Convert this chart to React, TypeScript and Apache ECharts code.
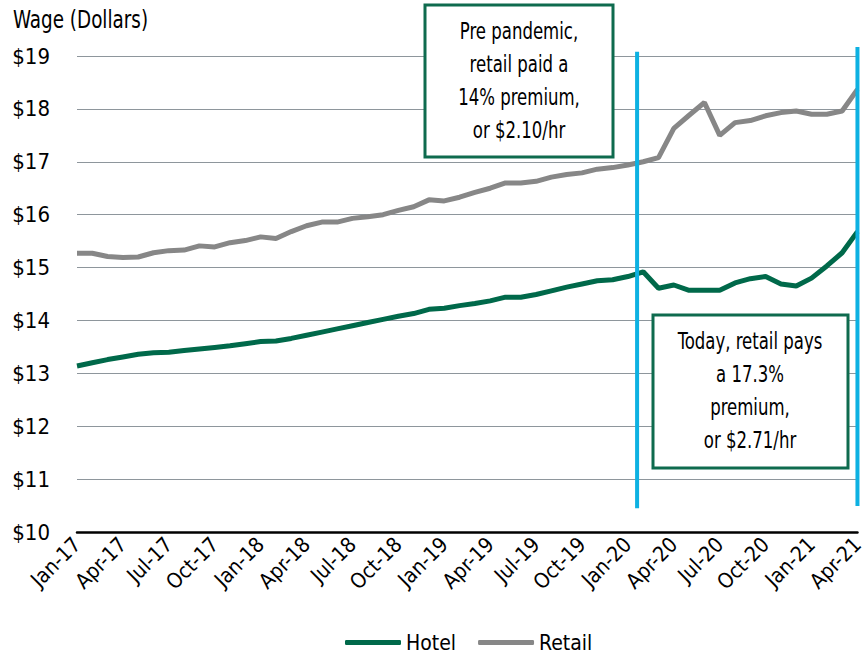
import React, { useEffect, useRef } from "react";
import * as echarts from "echarts";

const months: string[] = [
  "Jan-17","Feb-17","Mar-17","Apr-17","May-17","Jun-17","Jul-17","Aug-17","Sep-17","Oct-17","Nov-17","Dec-17",
  "Jan-18","Feb-18","Mar-18","Apr-18","May-18","Jun-18","Jul-18","Aug-18","Sep-18","Oct-18","Nov-18","Dec-18",
  "Jan-19","Feb-19","Mar-19","Apr-19","May-19","Jun-19","Jul-19","Aug-19","Sep-19","Oct-19","Nov-19","Dec-19",
  "Jan-20","Feb-20","Mar-20","Apr-20","May-20","Jun-20","Jul-20","Aug-20","Sep-20","Oct-20","Nov-20","Dec-20",
  "Jan-21","Feb-21","Mar-21","Apr-21",
];

const hotel: number[] = [
  13.14, 13.20, 13.26, 13.31, 13.36, 13.39, 13.40, 13.43, 13.46, 13.49, 13.52, 13.56,
  13.60, 13.61, 13.66, 13.72, 13.78, 13.84, 13.90, 13.96, 14.02, 14.08, 14.13, 14.21,
  14.23, 14.28, 14.32, 14.37, 14.44, 14.44, 14.49, 14.56, 14.63, 14.69, 14.75, 14.77,
  14.83, 14.92, 14.61, 14.67, 14.57, 14.57, 14.57, 14.71, 14.79, 14.83, 14.69, 14.65,
  14.80, 15.03, 15.28, 15.68,
];

const retail: number[] = [
  15.27, 15.27, 15.21, 15.19, 15.20, 15.28, 15.32, 15.33, 15.41, 15.39, 15.47, 15.51,
  15.58, 15.55, 15.68, 15.79, 15.86, 15.86, 15.93, 15.96, 16.00, 16.08, 16.15, 16.28,
  16.26, 16.33, 16.42, 16.50, 16.60, 16.60, 16.63, 16.71, 16.76, 16.79, 16.86, 16.89,
  16.94, 17.00, 17.08, 17.63, 17.88, 18.12, 17.50, 17.74, 17.78, 17.87, 17.93, 17.96,
  17.90, 17.90, 17.96, 18.37,
];

// vertical marker lines: [x index, y start, y end]
const markers: number[][] = [
  [36.6, 10.45, 19.08],
  [51, 10.49, 19.17],
];

const yTicks: number[] = [10, 11, 12, 13, 14, 15, 16, 17, 18, 19];

const FONT = "'DejaVu Sans Condensed', 'DejaVu Sans', sans-serif";

export default function App() {
  const ref = useRef<HTMLDivElement>(null);
  useEffect(() => {
    if (!ref.current) return;
    const chart = echarts.init(ref.current, undefined, { renderer: "svg" });
    const hotelData = hotel.map((v, i) => [i, v]);
    const retailData = retail.map((v, i) => [i, v]);
    const baseGraphic: any[] = [
      {
        id: "ytitle",
        type: "text",
        x: 13,
        y: 7,
        scaleX: 0.85,
        style: { text: "Wage (Dollars)", fontSize: 24, fill: "#000000", fontFamily: FONT },
      },
      {
        id: "box1",
        type: "rect",
        shape: { x: 425, y: 5, width: 188, height: 152 },
        style: { fill: "#ffffff", stroke: "#0E6B4E", lineWidth: 3 },
        z: 10,
      },
      {
        id: "box1text",
        type: "text",
        x: 519,
        y: 81,
        scaleX: 0.8,
        style: {
          text: "Pre pandemic,\nretail paid a\n14% premium,\nor $2.10/hr",
          fontSize: 23,
          lineHeight: 33,
          fill: "#000000",
          fontFamily: FONT,
          align: "center",
          verticalAlign: "middle",
        },
        z: 11,
      },
      {
        id: "box2",
        type: "rect",
        shape: { x: 653, y: 315, width: 195, height: 153 },
        style: { fill: "#ffffff", stroke: "#0E6B4E", lineWidth: 3 },
        z: 10,
      },
      {
        id: "box2text",
        type: "text",
        x: 750,
        y: 391,
        scaleX: 0.8,
        style: {
          text: "Today, retail pays\na 17.3%\npremium,\nor $2.71/hr",
          fontSize: 23,
          lineHeight: 33,
          fill: "#000000",
          fontFamily: FONT,
          align: "center",
          verticalAlign: "middle",
        },
        z: 11,
      },
    ];
    chart.setOption({
      animation: false,
      backgroundColor: "#ffffff",
      textStyle: { fontFamily: FONT },
      grid: { left: 77, right: 5, top: 56, bottom: 122, containLabel: false },
      xAxis: {
        type: "value",
        min: 0,
        max: months.length - 1,
        interval: 3,
        axisLine: { show: true, onZero: false, lineStyle: { color: "#000000", width: 2.5 } },
        axisTick: { show: false },
        splitLine: { show: false },
        axisLabel: {
          rotate: 45,
          fontSize: 21,
          color: "#000000",
          fontFamily: FONT,
          margin: 9,
          formatter: (v: number) => months[Math.round(v)] ?? "",
        },
      },
      yAxis: {
        type: "value",
        min: yTicks[0],
        max: yTicks[yTicks.length - 1],
        interval: 1,
        axisLine: { show: false },
        axisTick: { show: false },
        splitLine: { show: true, lineStyle: { color: "#8E969C", width: 1 } },
        axisLabel: {
          fontSize: 22,
          color: "#000000",
          fontFamily: FONT,
          margin: 27,
          formatter: (v: number) => "$" + v,
        },
      },
      legend: {
        left: 340,
        top: 627,
        itemWidth: 56,
        itemHeight: 5,
        itemGap: 22,
        icon: "roundRect",
        textStyle: { fontSize: 21, color: "#000000", fontFamily: FONT },
        data: ["Hotel", "Retail"],
      },
      graphic: baseGraphic,
      series: [
        {
          name: "Hotel",
          type: "line",
          data: hotelData,
          showSymbol: false,
          symbol: "none",
          color: "#00694A",
          lineStyle: { color: "#00694A", width: 5 },
          z: 3,
        },
        {
          name: "Retail",
          type: "line",
          data: retailData,
          showSymbol: false,
          symbol: "none",
          color: "#878787",
          lineStyle: { color: "#878787", width: 5 },
          z: 2,
        },
      ],
    });
    const lines = markers.map((m, i) => {
      const p1 = chart.convertToPixel({ gridIndex: 0 }, [m[0], m[1]]) as number[];
      const p2 = chart.convertToPixel({ gridIndex: 0 }, [m[0], m[2]]) as number[];
      return {
        id: "vline" + i,
        type: "line",
        shape: { x1: p1[0], y1: p1[1], x2: p2[0], y2: p2[1] },
        style: { stroke: "#0DB1E2", lineWidth: 4 },
        z: 12,
        silent: true,
      };
    });
    chart.setOption({ graphic: [...baseGraphic, ...lines] });
    return () => chart.dispose();
  }, []);
  return (
    <div
      ref={ref}
      style={{ position: "absolute", left: 0, top: 0, width: 867, height: 654 }}
    />
  );
}
